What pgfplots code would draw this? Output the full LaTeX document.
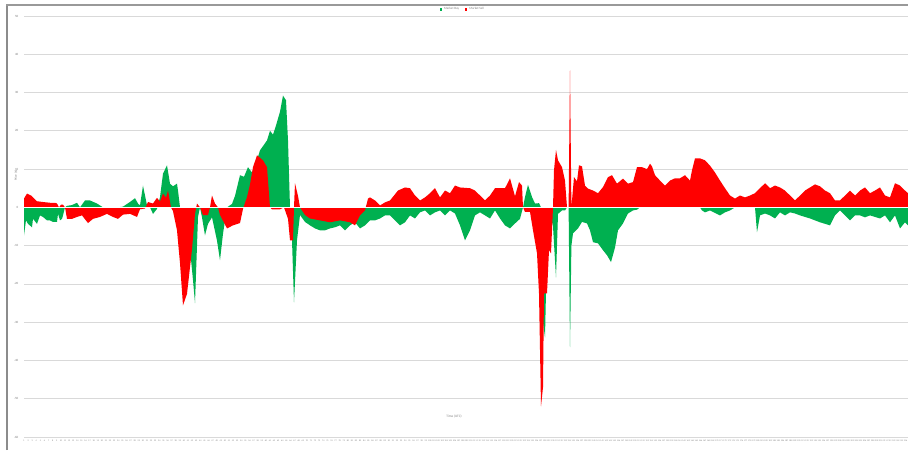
\documentclass[border=0pt]{standalone}
\usepackage{fontspec}
\setmainfont{Carlito}
\usepackage{pgfplots}
\pgfplotsset{compat=1.18}
\definecolor{xgreen}{HTML}{00B050}
\definecolor{xred}{HTML}{FF0000}
\definecolor{xgrid}{HTML}{D9D9D9}
\definecolor{xtext}{HTML}{808080}
\begin{document}
\begin{tikzpicture}[x=1pt,y=1pt]
\useasboundingbox (0,0) rectangle (908,450);
\fill[white] (0,0) rectangle (908,450);
\draw[black!45, line width=1.3] (7,0) -- (7,445);
\draw[black!40, line width=2] (6.35,445) -- (908,445);
\node[rotate=90, font=\fontsize{3.2}{3.5}\selectfont, text=xtext] at (16,274.5) {Price (\$)};
\node[font=\fontsize{3.4}{3.6}\selectfont, text=xtext] at (454,33.3) {Time (UTC)};
\begin{axis}[at={(24pt,13pt)}, anchor=south west, width=884pt, height=421pt, scale only axis,
  xmin=24, xmax=908, ymin=-60, ymax=50,
  axis line style={draw=none}, tick style={draw=none},
  ytick={-60,-50,...,50}, ymajorgrids, grid style={xgrid, line width=0.8pt},
  /pgf/number format/assume math mode=true,
  yticklabel style={font=\fontsize{3.2}{3.5}\selectfont, text=xtext, xshift=-2.2pt},
  xtick={24,28.1,...,908},
  xticklabel={\pgfmathtruncatemacro\k{round((\tick-24)/4.1)+1}\k},
  xticklabel style={font=\fontsize{2.2}{2.4}\selectfont, text=xtext, yshift=0.5pt},
  legend style={at={(0.4966,1.0154)}, anchor=center, draw=none, fill=none,
    font=\fontsize{3.2}{3.5}\selectfont, text=xtext, legend columns=2, inner sep=0pt,
    /tikz/every even column/.append style={column sep=4pt}},
  legend image code/.code={\path[#1] (0pt,-1.1pt) rectangle (2.2pt,1.1pt);},
]
\addplot[fill=xgreen, draw=none] coordinates {
(24,0) (24,-7.3) (26,-3.4) (28,-4.3) (32,-5.2) (33,-3.0) (37,-4.3) (40,-2.1) (43,-2.5) (47,-3.4)
(50,-3.4) (53,-3.8) (57,-3.8) (58,-1.7) (60,-3.4) (62,-3.0) (63,-2.1) (65,0) (67,0.4) (72,0.6)
(77,1.2) (80,0) (85,1.8) (90,1.8) (97,1.0) (103,0) (110,0) (118,0) (123,0.2) (130,1.4)
(135,2.4) (138,1.0) (140,0.5) (143,5.7) (147,0.5) (150,0) (153,-1.7) (157,-0.4) (160,2.7) (163,8.8)
(167,11.0) (170,6.2) (173,5.5) (177,6.2) (178,4.4) (180,0) (185,-3) (190,-11) (193,-19) (195,-25)
(198,-2.5) (200,0) (202,-2.6) (205,-7.3) (208,-4.3) (212,-2.6) (217,-8.7) (220,-13.8) (223,-6.9) (227,0)
(232,0.9) (235,3) (240,8.4) (244,8.0) (248,10.5) (252,9.1) (256,11.5) (260,14.9) (263,16) (267,17.5)
(270,20) (273,19) (276,21.4) (280,25) (283,29.2) (286,28) (288,17.5) (290,0) (292,-8.6) (294,-24.8)
(297,-8.6) (300,-2) (305,-3.8) (310,-4.7) (315,-5.5) (320,-6) (325,-6) (330,-5.5) (335,-5.2) (340,-4.7)
(345,-6) (350,-4.7) (355,-3.9) (360,-5.5) (365,-4.7) (370,-3.4) (375,-3.4) (380,-2.9) (385,-2.1) (390,-2.1)
(395,-3.4) (400,-4.7) (405,-3.9) (410,-2.1) (415,-2.9) (420,-1.3) (425,-0.8) (430,-2.1) (435,-1.3) (440,-0.8)
(445,-2.1) (450,-0.8) (455,-1.6) (460,-4.7) (465,-8.6) (470,-6) (475,-2.1) (480,-1.3) (485,-2.1) (490,-2.9)
(495,-0.8) (500,-2.9) (505,-4.7) (510,-5.5) (515,-4.2) (520,-3) (523,0) (525,2.7) (528,5.9) (532,2.7)
(535,1.0) (539,1.1) (541,0) (543,-30) (545,-34) (547,-10) (549,0) (553,-5) (556,-18.3) (558,-1.7)
(562,-0.8) (565,-0.8) (567,0) (568.6,0) (570,-36.5) (571.4,-10) (573,-6.8) (578,-5.5) (582,-3.8) (587,-4.2)
(590,-6) (593,-9.1) (598,-9.4) (603,-11.2) (607,-12.5) (611,-14.3) (615,-10.5) (618,-6) (623,-4.2) (628,-1.6)
(633,-0.8) (637,-0.6) (640,0) (700,0) (702,-0.8) (705,-1.3) (710,-0.8) (720,-2.1) (725,-1.3) (730,-0.8)
(735,0) (755,0) (757,-6.5) (760,-2.1) (765,-1.6) (770,-2.1) (775,-2.9) (780,-1.3) (785,-2.1) (790,-1.3)
(795,-1.6) (800,-2.1) (810,-2.9) (820,-3.9) (830,-4.7) (835,-2.1) (840,-0.8) (845,-2.1) (850,-3.4) (855,-2.1)
(860,-2.1) (865,-2.6) (870,-2.1) (880,-2.9) (885,-2.1) (890,-3.9) (895,-2.1) (900,-5.5) (905,-3.9) (908,-4.7)
(908,0)} -- cycle;
\addlegendentry{Market Buy}
\addplot[fill=xred, draw=none] coordinates {
(24,0) (24,2.3) (27,3.6) (31,3.1) (37,1.6) (43,1.4) (50,1.2) (55,1.2) (57,1.0) (59,0) (61,0.7)
(63,0.7) (65,0) (67,-3.0) (72,-3.0) (77,-2.5) (82,-2.1) (88,-4.1) (93,-3.0) (100,-2.5) (107,-1.7)
(113,-2.5) (118,-3.0) (123,-1.9) (130,-1.7) (137,-2.5) (140,-0.5) (145,-0.3) (148,1.4) (153,1.0) (157,2.5)
(160,1.5) (163,3.6) (166,2.5) (168,4.4) (171,0) (173,-1) (177,-6) (180,-14.6) (183,-25.6) (187,-22.6)
(192,-11) (195,-1.7) (197,1.0) (200,0) (203,-2.0) (208,-2.0) (210,0) (212,3.1) (215,1.0) (218,0)
(220,-2) (224,-4) (227,-5.5) (233,-4.7) (240,-4.1) (243,-0.4) (247,2.7) (250,6) (253,10.5) (257,13.6)
(263,12.3) (267,10.5) (270,0) (272,-0.5) (280,-0.5) (284,0) (288,-3) (290,-8.6) (293,-8.6) (294,0)
(295,6.3) (298,3) (300,0) (305,-2) (310,-2.9) (320,-3.4) (330,-3.9) (340,-3.4) (350,-3.9) (355,-4.7)
(360,-2.1) (365,-0.8) (368,2.3) (370,2.6) (375,1.8) (380,0.5) (385,1.3) (390,1.8) (398,4.4) (405,5.2)
(410,5.0) (415,3.1) (420,1.8) (425,2.6) (430,3.7) (435,5.0) (440,2.6) (445,4.4) (450,3.7) (455,5.7)
(460,5.2) (470,5.0) (475,4.4) (480,3.1) (485,1.8) (490,3.1) (495,5.0) (500,5.0) (505,5.0) (510,7.6)
(515,2.9) (519,6.6) (522,5.7) (523,0) (525,-1.2) (530,-1.2) (533,-6) (537,-12) (539,-22.5) (541,-52)
(543,-47) (544,-22.5) (547,-22.5) (549,-11.2) (551,-12) (553,0) (554,9.7) (556,15) (558,12.3) (562,10.5)
(565,7) (567,0) (568.6,0) (570,35.8) (571.4,0) (574,7.9) (577,6.8) (579,11) (582,10.7) (585,5.7)
(588,4.9) (593,4.4) (598,3.7) (603,5.3) (608,7.9) (612,8.4) (617,6.2) (623,7.5) (628,6.2) (633,6.6)
(637,10.5) (642,10.5) (647,10) (650,11.4) (652,10.7) (655,8.4) (660,7) (665,5.7) (670,7) (675,7.6)
(680,7.6) (685,8.4) (690,7) (692,9.7) (695,12.8) (700,12.8) (705,12.3) (710,10.9) (715,9.1) (720,7)
(725,5) (730,3.1) (735,2.3) (740,3.1) (745,2.6) (750,3.1) (755,3.7) (760,5) (765,6.3) (770,5)
(775,5.7) (780,5.2) (785,4.4) (790,3.1) (795,1.8) (800,3.1) (805,4.4) (810,5.2) (815,6) (820,5.5)
(825,4.4) (830,3.7) (835,1.8) (840,1.8) (845,3.1) (850,4.4) (855,3.1) (860,4.4) (865,5.2) (870,3.7)
(875,4.4) (880,5.2) (885,3.1) (890,2.6) (895,6.3) (900,5.7) (905,4.4) (908,3.7) (908,0)} -- cycle;
\addlegendentry{Market Sell}
\draw[white, line width=0.9pt] (axis cs:24,0) -- (axis cs:908,0);
\end{axis}
\end{tikzpicture}
\end{document}
